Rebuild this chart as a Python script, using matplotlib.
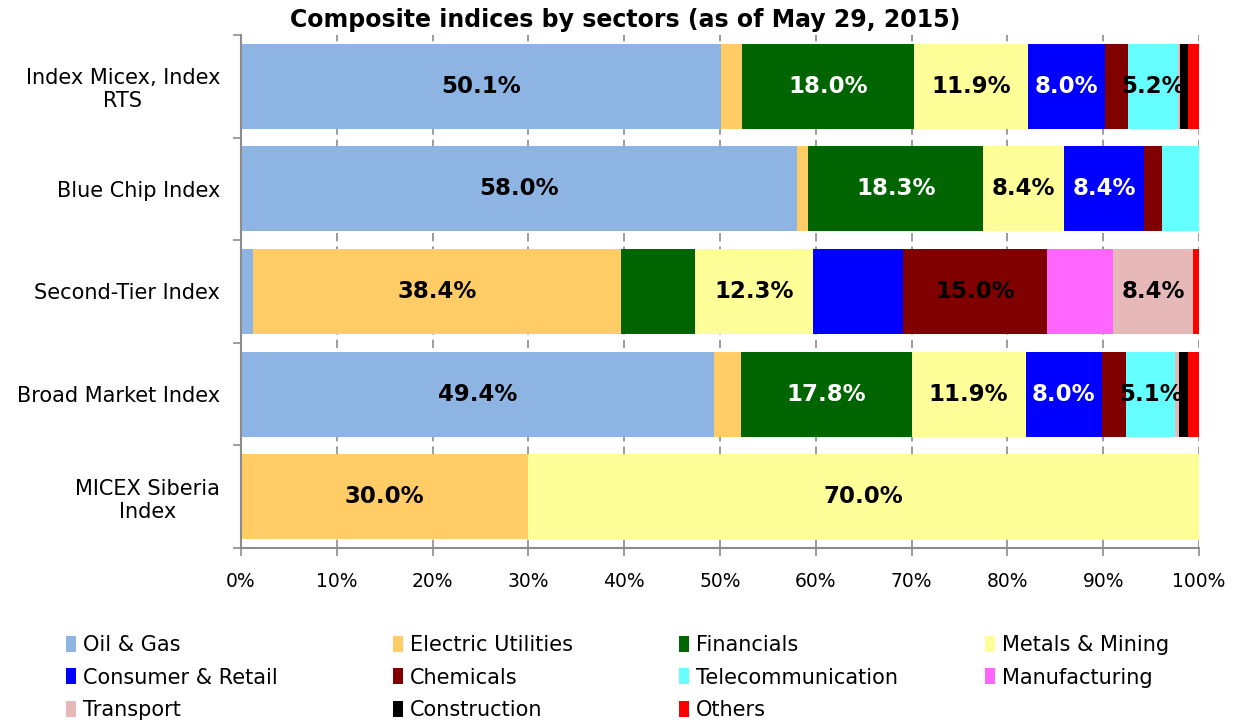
import matplotlib.pyplot as plt
import numpy as np

# index names (top to bottom)
indices = ["Index Micex, Index\nRTS", "Blue Chip Index", "Second-Tier Index",
           "Broad Market Index", "MICEX Siberia\nIndex"]

sectors = ["Oil & Gas", "Electric Utilities", "Financials", "Metals & Mining",
           "Consumer & Retail", "Chemicals", "Telecommunication", "Manufacturing",
           "Transport", "Construction", "Others"]
colors = ["#8EB4E3", "#FFCC66", "#006400", "#FFFF99", "#0000FF", "#800000",
          "#66FFFF", "#FF66FF", "#E6B9B8", "#000000", "#FF0000"]

# shares in %, one value per index
oil_gas = [50.1, 58.0, 1.3, 49.4, 0.0]
electric = [2.2, 1.2, 38.4, 2.8, 30.0]
financials = [18.0, 18.3, 7.7, 17.8, 0.0]
metals = [11.9, 8.4, 12.3, 11.9, 70.0]
consumer = [8.0, 8.4, 9.4, 8.0, 0.0]
chemicals = [2.4, 1.8, 15.0, 2.5, 0.0]
telecom = [5.2, 3.9, 0.0, 5.1, 0.0]
manufacturing = [0.0, 0.0, 6.9, 0.0, 0.0]
transport = [0.2, 0.0, 8.4, 0.4, 0.0]
construction = [0.9, 0.0, 0.0, 0.9, 0.0]
others = [1.1, 0.0, 0.6, 1.2, 0.0]

# segments that carry a value label in the original
labelled = [
    ["Oil & Gas", "Financials", "Metals & Mining", "Consumer & Retail", "Telecommunication"],
    ["Oil & Gas", "Financials", "Metals & Mining", "Consumer & Retail"],
    ["Electric Utilities", "Metals & Mining", "Chemicals", "Transport"],
    ["Oil & Gas", "Financials", "Metals & Mining", "Consumer & Retail", "Telecommunication"],
    ["Electric Utilities", "Metals & Mining"],
]
white_text = ["Financials", "Consumer & Retail"]

series = [oil_gas, electric, financials, metals, consumer, chemicals,
          telecom, manufacturing, transport, construction, others]

fig = plt.figure(figsize=(12.4, 7.24), dpi=100)
ax = fig.add_axes([241 / 1240, 1 - 548 / 724, 958 / 1240, 513 / 724])

y = np.arange(len(indices))
left = np.zeros(len(indices))
bars = []
for name, vals, col in zip(sectors, series, colors):
    vals = np.array(vals)
    b = ax.barh(y, vals, left=left, height=0.83, color=col, linewidth=0, label=name, zorder=2)
    bars.append(b)
    for i in range(len(indices)):
        if name in labelled[i]:
            tc = "white" if name in white_text else "black"
            ax.text(left[i] + vals[i] / 2, y[i], "%.1f%%" % vals[i], ha="center", va="center",
                    fontsize=16.5, fontweight="bold", color=tc, zorder=3)
    left += vals

ax.set_xlim(0, 100)
ax.set_ylim(len(indices) - 0.5, -0.5)
ax.set_xticks(np.arange(0, 101, 10))
ax.set_xticklabels(["%d%%" % v for v in range(0, 101, 10)], fontsize=13.5)
ax.set_yticks(y)
ax.set_yticklabels(indices, fontsize=15, multialignment="center")
ax.set_yticks(np.arange(-0.5, len(indices), 1.0), minor=True)
ax.tick_params(axis="y", which="major", length=0, pad=15)
ax.tick_params(axis="y", which="minor", length=6, color="#8c8c8c", width=1.2)
ax.tick_params(axis="x", length=6, color="#8c8c8c", width=1.2, pad=11)
ax.xaxis.grid(True, color="#8c8c8c", linestyle=(0, (5, 3)), linewidth=1.2, zorder=0)
ax.set_axisbelow(True)
for s in ["top", "right"]:
    ax.spines[s].set_visible(False)
for s in ["left", "bottom"]:
    ax.spines[s].set_color("#8c8c8c")
    ax.spines[s].set_linewidth(1.5)

fig.text(0.504, 0.972, "Composite indices by sectors (as of May 29, 2015)",
         ha="center", va="center", fontsize=17, fontweight="bold")

# legend laid out in four fixed columns like the original
col_x = [66, 393, 679, 985]
for c in range(4):
    idx = list(range(c, len(sectors), 4))
    fig.legend([bars[k] for k in idx], [sectors[k] for k in idx],
               loc="upper left", bbox_to_anchor=(col_x[c] / 1240, 1 - 635 / 724),
               frameon=False, fontsize=15, handlelength=0.5, handleheight=0.8,
               handletextpad=0.3, labelspacing=0.6, borderpad=0, borderaxespad=0)

fig.savefig("out.png", dpi=100)
